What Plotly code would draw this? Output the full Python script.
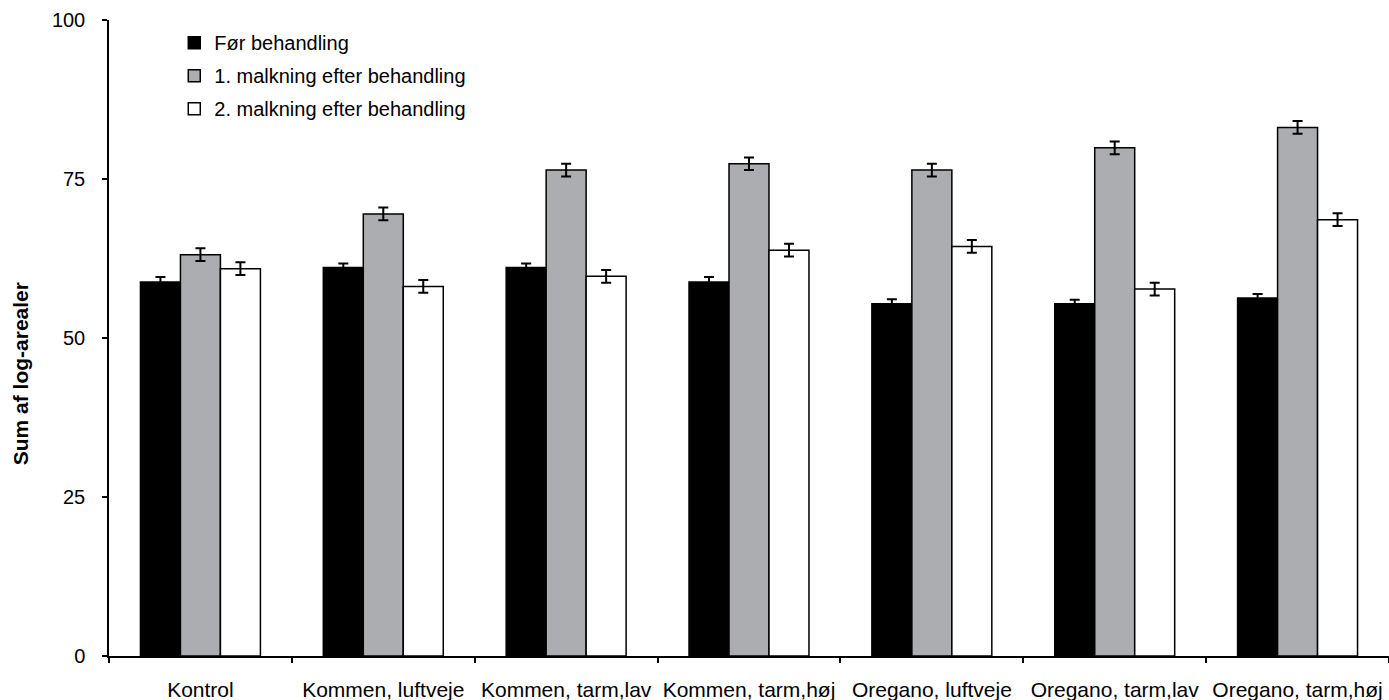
import plotly.graph_objects as go

# Treatment groups on the x axis
categories = [
    "Kontrol",
    "Kommen, luftveje",
    "Kommen, tarm,lav",
    "Kommen, tarm,høj",
    "Oregano, luftveje",
    "Oregano, tarm,lav",
    "Oregano, tarm,høj",
]

series_names = [
    "Før behandling",
    "1. malkning efter behandling",
    "2. malkning efter behandling",
]

# Mean sum of log-areas per group
foer_values = [58.8, 61.1, 61.1, 58.8, 55.4, 55.4, 56.3]
malk1_values = [63.1, 69.5, 76.4, 77.4, 76.4, 79.9, 83.1]
malk2_values = [60.9, 58.1, 59.7, 63.8, 64.4, 57.7, 68.6]

# Standard errors
foer_err = [0.8, 0.6, 0.6, 0.8, 0.7, 0.6, 0.6]
malk1_err = [1.0, 1.0, 1.0, 1.0, 1.0, 1.0, 1.0]
malk2_err = [1.0, 1.0, 1.0, 1.0, 1.0, 1.0, 1.0]

y_ticks = [0, 25, 50, 75, 100]
y_title = "Sum af log-arealer"

fills = ["#000000", "#ACADB0", "#FFFFFF"]
values = [foer_values, malk1_values, malk2_values]
errors = [foer_err, malk1_err, malk2_err]

FONT = "Liberation Sans, Arial, sans-serif"

fig = go.Figure()
for i, (name, vals, errs, col) in enumerate(zip(series_names, values, errors, fills)):
    fig.add_trace(go.Bar(
        name=name,
        x=categories,
        y=vals,
        legendgroup=f"g{i}",
        marker=dict(color=col, line=dict(color="#000000", width=1.5)),
        error_y=dict(type="data", array=errs, visible=True,
                     color="#000000", thickness=2, width=5),
    ))

# Vertical axis title, placed a little below the axis midpoint
fig.add_annotation(
    text=f"<b>{y_title}</b>",
    xref="paper", yref="paper",
    x=-0.0695, y=0.443,
    xanchor="center", yanchor="middle",
    textangle=-90, showarrow=False,
    font=dict(family=FONT, size=21, color="#000000"),
)

fig.update_layout(
    width=1389,
    height=700,
    margin=dict(l=109, r=0, t=20, b=44),
    paper_bgcolor="white",
    plot_bgcolor="white",
    barmode="group",
    bargap=0.344,
    bargroupgap=0,
    font=dict(family=FONT, size=20, color="#000000"),
    legend=dict(
        x=0.051, y=0.995, xanchor="left", yanchor="top",
        bgcolor="rgba(0,0,0,0)",
        font=dict(family=FONT, size=20, color="#000000"),
        tracegroupgap=4,
        itemwidth=30,
    ),
    xaxis=dict(
        type="category",
        range=[-0.5, 6.5],
        showline=True, linecolor="#000000", linewidth=1.5,
        ticks="outside", ticklen=5, tickwidth=1.5, tickcolor="#000000",
        tickson="boundaries",
        ticklabelstandoff=14,
        showgrid=False, zeroline=False,
        automargin=False,
        tickfont=dict(family=FONT, size=21, color="#000000"),
    ),
    yaxis=dict(
        range=[0, 100],
        tickvals=y_ticks,
        showline=True, linecolor="#000000", linewidth=1.5,
        ticks="outside", ticklen=5, tickwidth=1.5, tickcolor="#000000",
        ticklabelstandoff=13,
        showgrid=False, zeroline=False,
        automargin=False,
        tickfont=dict(family=FONT, size=20, color="#000000"),
    ),
)

fig.write_html("out.html")
